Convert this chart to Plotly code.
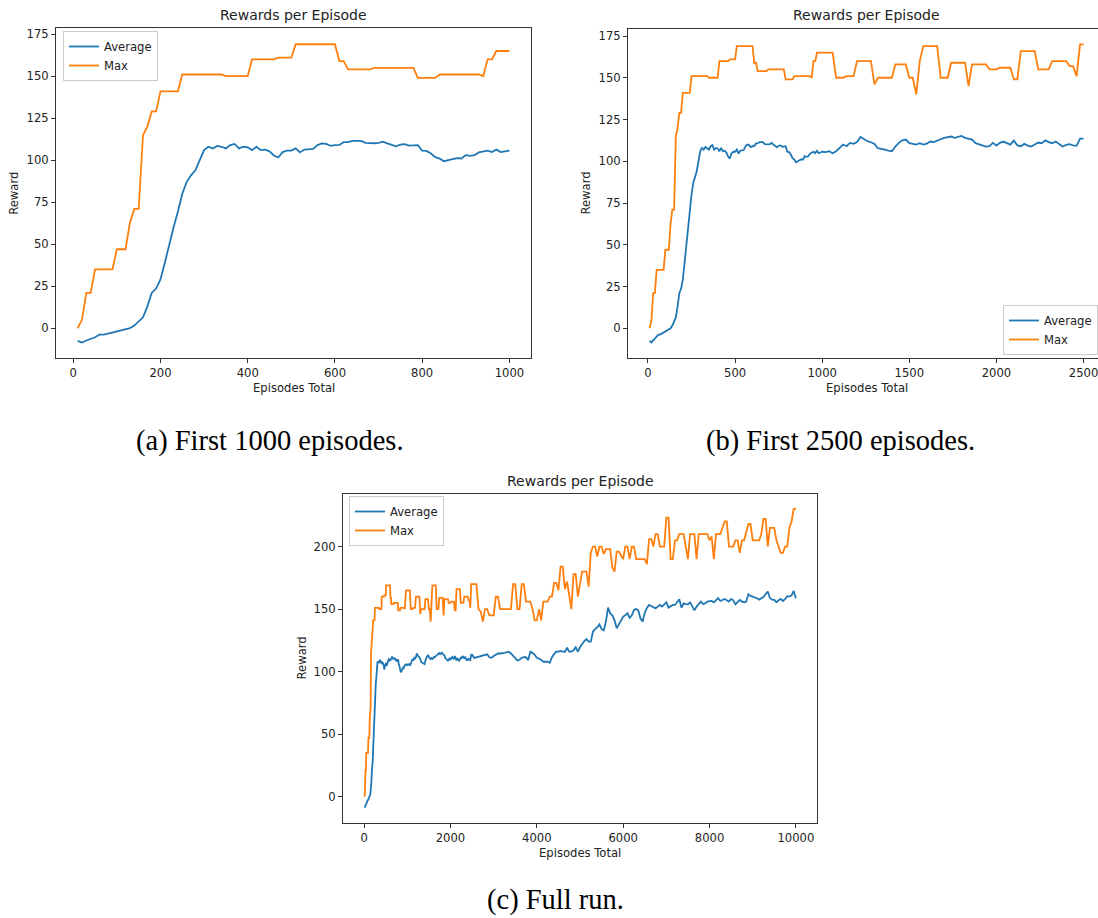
import plotly.graph_objects as go

W, H = 1098, 918

# ---------------- data ----------------
# sampling grid of the logged points (episodes)
episodes = list(range(10, 1001, 10)) + list(range(1020, 2501, 20)) + list(range(2550, 10001, 50))

# episodes 10..1000, every 10
avg_first_1000 = [
    -7.5, -8.5, -7.3, -6.2, -5.4, -3.8, -3.8, -3.2, -2.6, -2.0,
    -1.2, -0.6, 0.0, 1.6, 3.8, 6.5, 13.0, 21.0, 23.6, 29.0,
    39.0, 50.0, 60.0, 69.5, 80.0, 87.0, 91.0, 94.0, 100.0, 106.0,
    108.0, 107.0, 108.5, 108.0, 107.0, 109.0, 109.7, 107.0, 108.0, 107.7,
    106.0, 108.0, 106.0, 106.3, 105.3, 102.8, 101.6, 104.8, 105.7, 105.7,
    107.0, 104.6, 106.3, 106.5, 106.7, 109.0, 110.0, 109.7, 108.5, 109.0,
    109.1, 110.7, 110.7, 111.5, 111.7, 111.5, 110.3, 110.1, 110.1, 110.3,
    111.0, 110.0, 109.3, 108.3, 109.3, 109.5, 108.7, 109.0, 109.0, 105.7,
    105.5, 104.0, 101.8, 101.0, 99.4, 100.0, 100.8, 101.2, 101.0, 103.0,
    102.6, 103.0, 104.6, 105.0, 105.7, 104.8, 106.3, 104.8, 105.2, 105.7,
]
max_first_1000 = [
    0, 5, 21, 21, 35, 35, 35, 35, 35, 47,
    47, 47, 63, 71, 71, 115, 120, 129, 129, 141,
    141, 141, 141, 141, 151, 151, 151, 151, 151, 151,
    151, 151, 151, 151, 150, 150, 150, 150, 150, 150,
    160, 160, 160, 160, 160, 160, 161, 161, 161, 161,
    169, 169, 169, 169, 169, 169, 169, 169, 169, 169,
    159, 159, 154, 154, 154, 154, 154, 154, 155, 155,
    155, 155, 155, 155, 155, 155, 155, 155, 149, 149,
    149, 149, 149, 151, 151, 151, 151, 151, 151, 151,
    151, 151, 151, 150, 160, 160, 165, 165, 165, 165,
]

# episodes 1020..2500, every 20
avg_1000_2500 = [
    105.5, 106.0, 104.8, 106.0, 108.0, 110.0, 109.0, 111.0, 110.4, 111.5,
    114.5, 113.0, 112.0, 111.4, 110.4, 107.8, 107.5, 107.0, 106.4, 106.0,
    108.8, 111.0, 112.5, 113.0, 110.8, 110.5, 110.0, 110.8, 110.0, 110.5,
    111.8, 111.5, 112.5, 113.2, 114.0, 114.5, 114.8, 114.0, 114.8, 115.2,
    114.0, 113.5, 113.0, 110.8, 110.0, 109.5, 108.8, 109.0, 111.0, 109.4,
    111.0, 111.8, 110.8, 110.0, 112.4, 109.5, 109.0, 110.4, 109.4, 108.8,
    110.0, 111.2, 110.8, 112.5, 111.5, 110.8, 111.8, 110.5, 108.8, 109.8,
    110.2, 109.5, 109.2, 113.5, 113.5,
]
max_1000_2500 = [
    165, 165, 165, 150, 150, 150, 151, 151, 151, 160,
    160, 160, 160, 160, 146, 150, 150, 150, 150, 150,
    158, 158, 158, 158, 150, 150, 140, 160, 169, 169,
    169, 169, 169, 150, 150, 150, 159, 159, 159, 159,
    159, 145, 158, 158, 158, 158, 158, 155, 155, 155,
    156, 156, 156, 156, 149, 149, 166, 166, 166, 166,
    166, 155, 155, 155, 155, 160, 160, 160, 160, 160,
    157, 157, 151, 170, 170,
]

# episodes 2550..10000, every 50
avg_2500_10000 = [
    111.0, 111.5, 112.0, 112.5, 113.0, 113.5, 113.8, 111.5, 111.0, 112.5,
    113.5, 114.6, 114.5, 114.6, 115.0, 115.5, 115.9, 114.5, 112.5, 110.5,
    109.0, 109.5, 111.0, 111.5, 111.5, 109.2, 115.9, 115.0, 113.5, 111.1,
    110.5, 109.5, 107.9, 108.2, 107.9, 107.1, 111.5, 114.0, 115.9, 116.0,
    116.5, 116.0, 115.9, 119.1, 116.0, 116.0, 117.0, 119.5, 116.0, 119.5,
    122.5, 124.5, 126.0, 124.0, 124.0, 132.0, 134.0, 135.5, 137.8, 134.0,
    133.0, 140.0, 151.2, 146.6, 145.0, 141.0, 134.6, 138.0, 141.0, 144.0,
    145.0, 146.6, 143.0, 145.0, 149.3, 150.0, 149.0, 142.6, 140.0, 147.0,
    151.0, 153.3, 152.5, 151.5, 150.6, 152.0, 153.3, 152.0, 153.5, 155.4,
    151.2, 152.5, 153.3, 153.3, 155.5, 157.9, 151.0, 154.6, 154.0, 153.8,
    155.4, 152.0, 149.0, 152.0, 154.0, 156.0, 154.0, 154.5, 156.0, 156.3,
    156.5, 155.4, 157.0, 158.7, 156.5, 157.0, 158.1, 157.0, 156.0, 158.1,
    157.0, 153.8, 156.0, 157.3, 156.0, 155.5, 156.0, 161.9, 160.5, 160.0,
    159.5, 158.7, 157.6, 158.5, 159.7, 162.0, 164.0, 158.7, 157.5, 157.3,
    155.4, 157.0, 158.1, 156.5, 158.0, 160.3, 160.0, 161.0, 164.5, 158.7,
]
max_2500_10000 = [
    170, 170, 150, 148, 140, 150, 150, 145, 145, 145,
    160, 160, 150, 150, 150, 150, 150, 150, 170, 170,
    150, 150, 170, 170, 156, 156, 156, 150, 141, 141,
    150, 141, 156, 156, 156, 160, 160, 171, 171, 165,
    184, 184, 166, 172, 160, 150, 178, 178, 160, 170,
    180, 180, 180, 168, 195, 200, 200, 192, 200, 200,
    194, 198, 198, 198, 183, 180, 196, 196, 193, 190,
    200, 200, 190, 200, 200, 190, 190, 190, 190, 190,
    186, 206, 206, 200, 210, 210, 200, 200, 200, 223,
    223, 190, 190, 205, 205, 210, 210, 210, 200, 190,
    210, 210, 210, 190, 210, 210, 210, 210, 210, 205,
    208, 190, 210, 210, 210, 215, 220, 220, 200, 200,
    200, 205, 205, 195, 205, 205, 212, 218, 218, 205,
    205, 205, 205, 210, 222, 222, 200, 215, 215, 215,
    205, 200, 195, 195, 200, 200, 215, 220, 230, 230,
]

average = avg_first_1000 + avg_1000_2500 + avg_2500_10000
maximum = max_first_1000 + max_1000_2500 + max_2500_10000

panel_titles = ["Rewards per Episode"] * 3
captions = ["(a) First 1000 episodes.", "(b) First 2500 episodes.", "(c) Full run."]
panel_limits = [1000, 2500, 10000]
x_ticks = [[0, 200, 400, 600, 800, 1000],
           [0, 500, 1000, 1500, 2000, 2500],
           [0, 2000, 4000, 6000, 8000, 10000]]
y_ticks = [[0, 25, 50, 75, 100, 125, 150, 175],
           [0, 25, 50, 75, 100, 125, 150, 175],
           [0, 50, 100, 150, 200]]

# ---------------- styling / layout ----------------
BLUE, ORANGE = "#1f77b4", "#ff7f0e"
FONT = "DejaVu Sans"
TXT = "#222222"
SPINE = "#333333"


def fx(px):
    return px / W


def fy(py):
    return 1 - py / H


# plot boxes in pixels: (left, right, top, bottom)
boxes = [(56, 531, 28.3, 358.3), (628, 1098, 29, 358.3), (343, 817, 494, 823)]
x_ranges = [[-39.5, 1049.5], [-114.5, 2583], [-489.5, 10489.5]]
y_ranges = [[-17.9, 178.5], [-18.0, 179.2], [-21.0, 242.0]]

fig = go.Figure()
legend_names = ["legend", "legend2", "legend3"]

for i in range(3):
    sub = [k for k, e in enumerate(episodes) if e <= panel_limits[i]]
    xs = [episodes[k] for k in sub]
    ax = "" if i == 0 else str(i + 1)
    fig.add_trace(go.Scatter(x=xs, y=[average[k] for k in sub], mode="lines", name="Average",
                             line=dict(color=BLUE, width=1.8), xaxis="x" + ax, yaxis="y" + ax,
                             legend=legend_names[i]))
    fig.add_trace(go.Scatter(x=xs, y=[maximum[k] for k in sub], mode="lines", name="Max",
                             line=dict(color=ORANGE, width=1.8), xaxis="x" + ax, yaxis="y" + ax,
                             legend=legend_names[i]))

layout = dict(
    width=W, height=H, margin=dict(l=0, r=0, t=0, b=0),
    paper_bgcolor="white", plot_bgcolor="white", showlegend=True,
    font=dict(family=FONT, size=11.6, color=TXT),
)

for i in range(3):
    l, r, t, b = boxes[i]
    ax = "" if i == 0 else str(i + 1)
    layout["xaxis" + ax] = dict(
        domain=[fx(l), min(fx(r), 1.0)], range=x_ranges[i], anchor="y" + ax,
        tickvals=x_ticks[i], ticktext=[str(v) for v in x_ticks[i]],
        ticks="outside", ticklen=4, tickwidth=1, tickcolor=SPINE,
        showline=True, linecolor=SPINE, linewidth=1, mirror=True,
        ticklabeloverflow="allow",
        showgrid=False, zeroline=False, tickfont=dict(family=FONT, size=11.6, color=TXT),
    )
    layout["yaxis" + ax] = dict(
        domain=[fy(b), fy(t)], range=y_ranges[i], anchor="x" + ax,
        tickvals=y_ticks[i], ticktext=[str(v) for v in y_ticks[i]],
        ticks="outside", ticklen=4, tickwidth=1, tickcolor=SPINE,
        showline=True, linecolor=SPINE, linewidth=1, mirror=(i != 1),
        ticklabeloverflow="allow",
        showgrid=False, zeroline=False, tickfont=dict(family=FONT, size=11.6, color=TXT),
    )

leg_common = dict(bgcolor="rgba(255,255,255,0.8)", bordercolor="#cccccc", borderwidth=1,
                  font=dict(family=FONT, size=11.6, color=TXT), itemwidth=30)
layout["legend"] = dict(x=fx(63), y=fy(31), xanchor="left", yanchor="top", **leg_common)
layout["legend2"] = dict(x=1.0, y=fy(355), xanchor="right", yanchor="bottom", **leg_common)
layout["legend3"] = dict(x=fx(349), y=fy(496), xanchor="left", yanchor="top", **leg_common)

annotations = []
title_centers = [(293.5, 15.5), (866.5, 15.5), (580, 481.2)]
xlabel_pos = [(293.5, 388), (866.5, 388), (580, 852.5)]
ylabel_pos = [(14.5, 193.3), (586, 193.6), (301, 658.5)]
caption_pos = [(270, 441), (840.5, 441), (555.5, 899.5)]
for i in range(3):
    annotations.append(dict(text=panel_titles[i], x=fx(title_centers[i][0]), y=fy(title_centers[i][1]),
                            xref="paper", yref="paper", showarrow=False, xanchor="center", yanchor="middle",
                            font=dict(family=FONT, size=14, color=TXT)))
    annotations.append(dict(text="Episodes Total", x=fx(xlabel_pos[i][0]), y=fy(xlabel_pos[i][1]),
                            xref="paper", yref="paper", showarrow=False, xanchor="center", yanchor="middle",
                            font=dict(family=FONT, size=11.6, color=TXT)))
    annotations.append(dict(text="Reward", x=fx(ylabel_pos[i][0]), y=fy(ylabel_pos[i][1]),
                            xref="paper", yref="paper", showarrow=False, xanchor="center", yanchor="middle",
                            textangle=-90, font=dict(family=FONT, size=11.6, color=TXT)))
    annotations.append(dict(text=captions[i], x=fx(caption_pos[i][0]), y=fy(caption_pos[i][1]),
                            xref="paper", yref="paper", showarrow=False, xanchor="center", yanchor="middle",
                            font=dict(family="Liberation Serif", size=28.5, color="#000000")))
layout["annotations"] = annotations

fig.update_layout(**layout)
fig.write_html("out.html")
